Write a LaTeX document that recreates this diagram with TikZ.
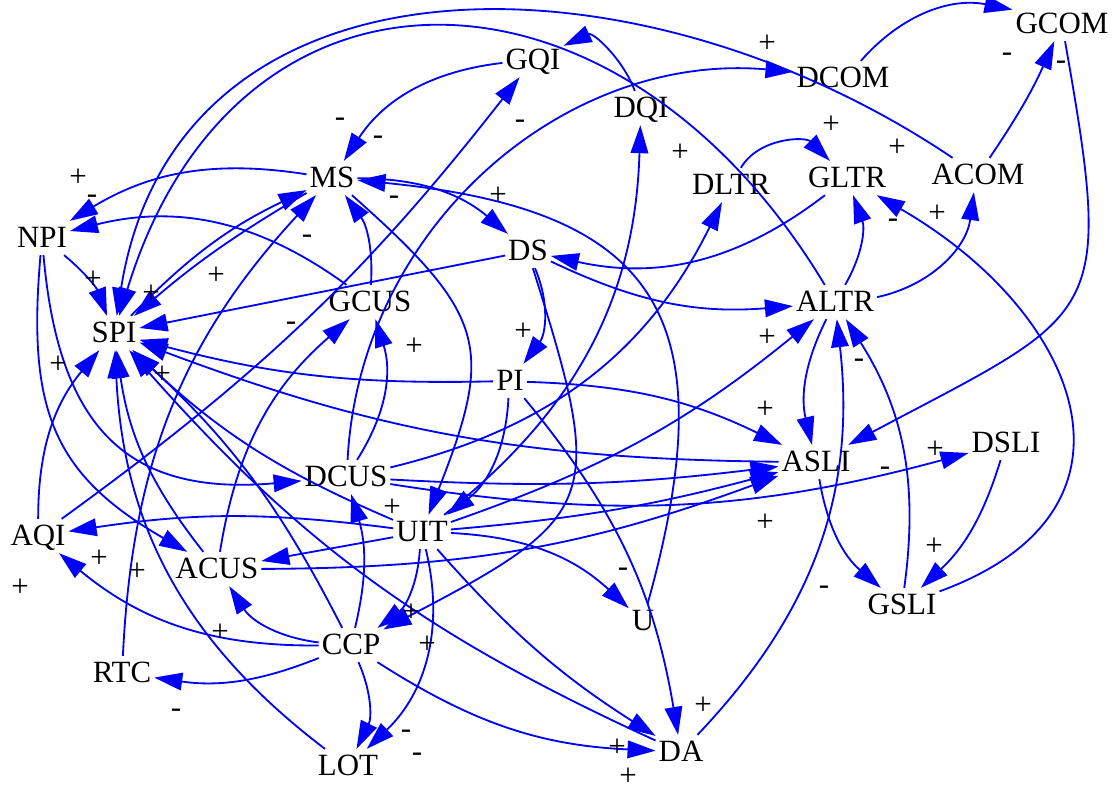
\documentclass[tikz,border=0pt]{standalone}
\usepackage{fontspec}
\setmainfont{Liberation Serif}
\usetikzlibrary{arrows.meta}

\begin{document}
\begin{tikzpicture}[
    % Global Styles
    x=0.025cm, y=0.025cm,
    font=\fontsize{22}{26}\selectfont,
    % Node Styles
    var/.style={
        rectangle,
        inner xsep=2pt,
        inner ysep=4pt,
        text height=15pt,
        text depth=1pt
    },
    sgn/.style={
        inner sep=0pt
    },
    % Arrow Style
    link/.style={
        -{Triangle[length=0.7cm, width=0.44cm]},
        draw=blue,
        line width=1.3pt
    }
]
    \useasboundingbox (0,0) rectangle (1115,-792);

    % --- Nodes ---
    \node[var] (GCOM) at (1062,-24) {GCOM};
    \node[var] (DCOM) at (843,-78) {DCOM};
    \node[var] (GQI) at (533,-60) {GQI};
    \node[var] (DQI) at (641,-108) {DQI};
    \node[var] (MS) at (332,-178) {MS};
    \node[var] (DLTR) at (731,-185) {DLTR};
    \node[var] (GLTR) at (847,-178) {GLTR};
    \node[var] (ACOM) at (978,-175) {ACOM};
    \node[var] (NPI) at (42,-238) {NPI};
    \node[var] (DS) at (528,-251) {DS};
    \node[var] (GCUS) at (370,-302) {GCUS};
    \node[var] (SPI) at (114,-333) {SPI};
    \node[var] (ALTR) at (835,-302) {ALTR};
    \node[var] (PI) at (510,-381) {PI};
    \node[var] (ASLI) at (816,-462) {ASLI};
    \node[var] (DSLI) at (1006,-443) {DSLI};
    \node[var] (DCUS) at (346,-477) {DCUS};
    \node[var] (UIT) at (422,-532) {UIT};
    \node[var] (AQI) at (38,-536) {AQI};
    \node[var] (ACUS) at (217,-569) {ACUS};
    \node[var] (U) at (643,-621) {U};
    \node[var] (GSLI) at (902,-605) {GSLI};
    \node[var] (CCP) at (351,-645) {CCP};
    \node[var] (RTC) at (122,-673) {RTC};
    \node[var] (LOT) at (348,-766) {LOT};
    \node[var] (DA) at (681,-752) {DA};

    % --- Edges ---

    % Top right
    \draw[link] (DCOM) to[bend left=30] (GCOM);
    \draw[link] (ACOM) to[bend right=5] (GCOM);
    \draw[link] (GCOM) to[out=280, in=28, looseness=1.6] (ASLI);
    \draw[link] (DCUS) to[bend left=46] (DCOM);
    \draw[link] (ACOM) to[out=146, in=81, looseness=1.15] (SPI);
    \draw[link] (ALTR) to[out=121, in=73, looseness=1.45] (SPI);
    \draw[link] (DQI) to[out=110, in=25] (GQI);
    \draw[link] (DLTR) to[out=60, in=135] (GLTR);
    \draw[link] (GSLI) to[out=20, in=-30, looseness=1.5] (GLTR);
    \draw[link] (ALTR) to[bend right=25] (GLTR);
    \draw[link] (ALTR) to[bend right=35] (ACOM);
    \draw[link] (GLTR) to[bend left=25] (DS);

    % DS and PI
    \draw[link] (DS) to[bend right=15] (ALTR);
    \draw[link] (DS) -- (SPI);
    \draw[link] (DS) to[bend left=30] (PI);
    \draw[link] (DS) to[bend left=40, looseness=1.6] (CCP);
    \draw[link] (PI) to[bend left=8] (SPI);
    \draw[link] (PI) to[bend left=12] (ASLI);
    \draw[link] (PI) to[bend left=25] (UIT);
    \draw[link] (PI) to[bend left=15] (DA);

    % MS
    \draw[link] (MS) to[bend right=20] (NPI);
    \draw[link] (GCUS) to[bend right=25] (NPI);
    \draw[link] (SPI) to[bend left=10] (MS);
    \draw[link] (RTC) to[bend left=20] (MS);
    \draw[link] (MS) to[bend right=5] (SPI);
    \draw[link] (MS) to[bend left=20] (DS);
    \draw[link] (MS) to[bend left=35, looseness=1.4] (UIT);
    \draw[link] (U) to[bend right=50, looseness=1.5] (MS);
    \draw[link] (GQI) to[bend right=25] (MS);
    \draw[link] (GCUS) to[bend right=20] (MS);

    % GCUS, GQI
    \draw[link] (DCUS) to[bend right=25] (GCUS);
    \draw[link] (ACUS) to[bend left=20] (GCUS);
    \draw[link] (AQI) to[bend right=8] (GQI);

    % Left side
    \draw[link] (AQI) to[bend left=20] (SPI);
    \draw[link] (NPI) to[bend left=15] (SPI);
    \draw[link] (NPI) to[out=-85, in=185, looseness=1.3] (DCUS);
    \draw[link] (NPI) to[out=-95, in=150, looseness=1.2] (ACUS);
    \draw[link] (UIT) to[bend right=8] (AQI);
    \draw[link] (CCP) to[bend left=20] (AQI);
    \draw[link] (UIT) -- (ACUS);
    \draw[link] (CCP) to[bend left=25] (ACUS);
    \draw[link] (ACUS) to[bend right=10] (ASLI);
    \draw[link] (CCP) to[bend left=15] (RTC);

    % Into SPI from below
    \draw[link] (DA) to[bend left=12] (SPI);
    \draw[link] (CCP) to[bend right=10] (SPI);
    \draw[link] (ACUS) to[bend left=15] (SPI);
    \draw[link] (LOT) to[bend left=25] (SPI);
    \draw[link] (UIT) to[bend left=10] (SPI);
    \draw[link] (ASLI) to[bend left=10] (SPI);

    % UIT and CCP
    \draw[link] (CCP) to[bend left=25] (LOT);
    \draw[link] (UIT) to[bend left=30] (LOT);
    \draw[link] (UIT) to[bend left=25] (CCP);
    \draw[link] (UIT) to[bend right=8] (DA);
    \draw[link] (UIT) to[bend left=20] (U);
    \draw[link] (CCP) to[bend right=15] (DA);
    \draw[link] (CCP) to[bend right=15] (DCUS);
    \draw[link] (UIT) to[bend right=10] (ALTR);
    \draw[link] (UIT) to[bend right=25] (DQI);
    \draw[link] (UIT) to[bend right=5] (ASLI);

    % DCUS
    \draw[link] (DCUS) to[bend right=25] (DLTR);
    \draw[link] (DCUS) to[bend right=5] (ASLI);
    \draw[link] (DCUS) to[bend right=12] (DSLI);

    % Right side
    \draw[link] (DA) to[bend right=25] (ALTR);
    \draw[link] (ALTR) to[bend right=20] (ASLI);
    \draw[link] (ASLI) to[bend right=20] (GSLI);
    \draw[link] (GSLI) to[bend right=20] (ALTR);
    \draw[link] (DSLI) to[bend left=15] (GSLI);

    % --- Signs ---
    \node[sgn] (p1) at (78,-178) {+};
    \node[sgn] (p2) at (93,-280) {+};
    \node[sgn] (p3) at (151,-294) {+};
    \node[sgn] (p4) at (216,-276) {+};
    \node[sgn] (p5) at (58,-365) {+};
    \node[sgn] (p6) at (162,-375) {+};
    \node[sgn] (p7) at (498,-196) {+};
    \node[sgn] (p8) at (523,-332) {+};
    \node[sgn] (p9) at (414,-347) {+};
    \node[sgn] (p10) at (680,-153) {+};
    \node[sgn] (p11) at (767,-44) {+};
    \node[sgn] (p12) at (831,-125) {+};
    \node[sgn] (p13) at (897,-148) {+};
    \node[sgn] (p14) at (937,-214) {+};
    \node[sgn] (p15) at (767,-338) {+};
    \node[sgn] (p16) at (765,-410) {+};
    \node[sgn] (p17) at (765,-523) {+};
    \node[sgn] (p18) at (935,-450) {+};
    \node[sgn] (p19) at (934,-547) {+};
    \node[sgn] (p20) at (703,-706) {+};
    \node[sgn] (p21) at (99,-559) {+};
    \node[sgn] (p22) at (137,-572) {+};
    \node[sgn] (p23) at (20,-588) {+};
    \node[sgn] (p24) at (220,-633) {+};
    \node[sgn] (p25) at (411,-613) {+};
    \node[sgn] (p26) at (427,-645) {+};
    \node[sgn] (p27) at (392,-508) {+};
    \node[sgn] (p28) at (617,-748) {+};
    \node[sgn] (p29) at (628,-777) {+};

    \node[sgn] (m1) at (92,-199) {-};
    \node[sgn] (m2) at (340,-122) {-};
    \node[sgn] (m3) at (378,-140) {-};
    \node[sgn] (m4) at (394,-200) {-};
    \node[sgn] (m5) at (307,-239) {-};
    \node[sgn] (m6) at (520,-124) {-};
    \node[sgn] (m7) at (291,-326) {-};
    \node[sgn] (m8) at (893,-223) {-};
    \node[sgn] (m9) at (859,-363) {-};
    \node[sgn] (m10) at (885,-471) {-};
    \node[sgn] (m11) at (824,-590) {-};
    \node[sgn] (m12) at (1007,-57) {-};
    \node[sgn] (m13) at (1061,-65) {-};
    \node[sgn] (m14) at (623,-572) {-};
    \node[sgn] (m15) at (176,-713) {-};
    \node[sgn] (m16) at (406,-734) {-};
    \node[sgn] (m17) at (417,-757) {-};

\end{tikzpicture}
\end{document}
